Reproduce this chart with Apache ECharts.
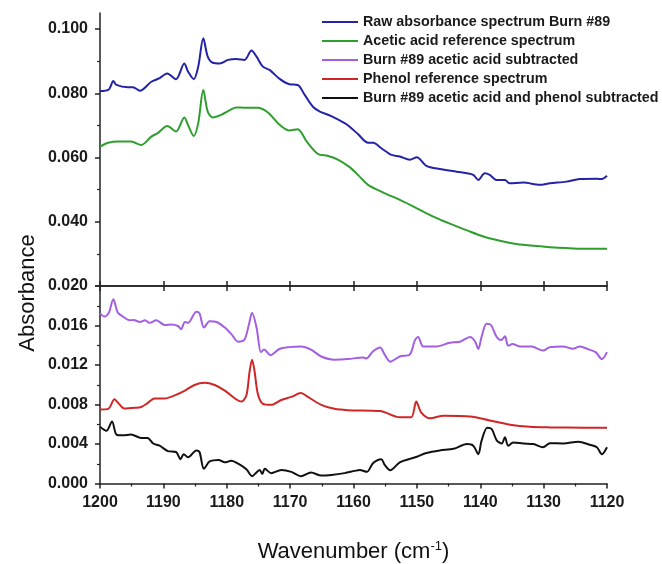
<!DOCTYPE html>
<html>
<head>
<meta charset="utf-8">
<script src="https://cdn.jsdelivr.net/npm/echarts@6/dist/echarts.min.js"></script>
<style>
    html, body { margin: 0; padding: 0; background: #fff; }
    #chart { width: 662px; height: 564px; }
</style>
</head>
<body>
<div id="chart"></div>
<script>
// [wavenumber (cm-1), absorbance]
var rawSpectrum = [
    [1200,0.0807],[1198.6,0.0812],[1197.9,0.0838],[1197.4,0.0826],[1195.6,0.0819],[1194.8,0.0819],
    [1193.7,0.0808],[1191.9,0.0836],[1190.6,0.0847],[1189.4,0.0862],[1188.0,0.0844],[1186.7,0.0893],
    [1186.1,0.0867],[1185.2,0.0844],[1184.5,0.0883],[1183.7,0.0971],[1183.0,0.0914],[1182.2,0.0895],
    [1181.1,0.0893],[1179.8,0.0904],[1178.5,0.0907],[1177.2,0.0904],[1176.1,0.0933],[1175.3,0.0914],
    [1174.3,0.0883],[1173.2,0.0872],[1171.6,0.0844],[1170.1,0.0828],[1168.8,0.0826],[1167.7,0.0795],
    [1166.4,0.0758],[1165.3,0.0743],[1163.5,0.0729],[1161.4,0.0707],[1160.6,0.0696],[1159.3,0.0673],
    [1157.7,0.0646],[1156.9,0.0646],[1155.6,0.0629],[1154.0,0.0608],[1152.7,0.0603],[1151.1,0.0593],
    [1150.0,0.0601],[1148.5,0.0574],[1146.4,0.0564],[1143.7,0.0556],[1142.1,0.0551],[1141.1,0.0546],
    [1140.3,0.0530],[1139.3,0.0551],[1138.5,0.0546],[1137.4,0.0530],[1136.1,0.0530],[1135.4,0.0520],
    [1133.2,0.0522],[1130.6,0.0515],[1129.0,0.0520],[1126.4,0.0525],[1124.3,0.0533],[1121.6,0.0534],
    [1120.8,0.0533],[1120.0,0.0543]
];
var aceticRef = [
    [1200,0.0634],[1198.7,0.0646],[1197.1,0.0650],[1195.1,0.0650],[1193.5,0.0639],[1191.9,0.0665],
    [1190.9,0.0676],[1189.4,0.0698],[1188.0,0.0681],[1186.7,0.0725],[1186.1,0.0701],[1185.2,0.0667],
    [1184.5,0.0707],[1183.7,0.0810],[1183.0,0.0743],[1182.2,0.0725],[1180.9,0.0733],[1179.3,0.0750],
    [1178.5,0.0756],[1177.2,0.0755],[1175.1,0.0755],[1173.5,0.0740],[1171.6,0.0701],[1170.1,0.0684],
    [1168.8,0.0688],[1167.4,0.0650],[1165.6,0.0611],[1164.0,0.0605],[1162.4,0.0593],[1160.6,0.0570],
    [1159.3,0.0546],[1157.7,0.0515],[1155.3,0.0491],[1152.7,0.0468],[1150.0,0.0442],[1147.4,0.0416],
    [1144.8,0.0394],[1142.1,0.0373],[1139.5,0.0354],[1136.9,0.0341],[1134.3,0.0331],[1131.6,0.0325],
    [1129.0,0.0321],[1126.4,0.0318],[1123.7,0.0316],[1120,0.0316]
];
var aceticSubtracted = [
    [1200,0.01723],[1199.3,0.01691],[1198.6,0.01730],[1197.9,0.01866],[1197.2,0.01732],[1196.4,0.01691],
    [1195.3,0.01653],[1194.7,0.01656],[1193.7,0.01636],[1192.9,0.01653],[1192.2,0.01627],[1191.1,0.01653],
    [1189.8,0.01605],[1188.7,0.01611],[1187.7,0.01595],[1187.2,0.01563],[1186.6,0.01636],[1186.1,0.01627],
    [1184.8,0.01739],[1184.3,0.01723],[1183.6,0.01579],[1182.7,0.01643],[1181.6,0.01636],[1180.3,0.01579],
    [1179.3,0.01515],[1178.2,0.01436],[1177.2,0.01458],[1176.5,0.01611],[1176.0,0.01729],[1175.3,0.01579],
    [1174.6,0.01330],[1174.1,0.01356],[1173.1,0.01299],[1171.7,0.01362],[1170.1,0.01381],[1168.3,0.01388],
    [1166.7,0.01356],[1165.1,0.01286],[1163.0,0.01254],[1160.9,0.01260],[1158.5,0.01276],[1158.0,0.01266],
    [1156.9,0.01340],[1155.8,0.01378],[1155.1,0.01308],[1154.2,0.01234],[1152.7,0.01286],[1151.1,0.01308],
    [1150.3,0.01452],[1149.8,0.01483],[1149.0,0.01388],[1146.9,0.01388],[1144.8,0.01426],[1143.2,0.01436],
    [1141.6,0.01483],[1140.8,0.01436],[1140.3,0.01362],[1139.8,0.01483],[1139.0,0.01617],[1138.3,0.01605],
    [1137.4,0.01483],[1136.7,0.01452],[1136.1,0.01490],[1135.6,0.01395],[1134.9,0.01413],[1133.8,0.01388],
    [1131.9,0.01388],[1130.1,0.01346],[1129.0,0.01381],[1126.9,0.01388],[1125.4,0.01365],[1124.3,0.01388],
    [1122.8,0.01356],[1121.8,0.01330],[1120.8,0.01260],[1120.0,0.01330]
];
var phenolRef = [
    [1200,0.00750],[1198.7,0.00756],[1197.7,0.00852],[1197.1,0.00814],[1196.1,0.00759],[1194.5,0.00766],
    [1193.5,0.00775],[1192.5,0.00814],[1191.4,0.00861],[1189.8,0.00861],[1188.2,0.00893],[1186.6,0.00941],
    [1185.1,0.00998],[1183.5,0.01021],[1181.9,0.00998],[1180.3,0.00941],[1178.7,0.00861],[1177.7,0.00830],
    [1176.9,0.00893],[1176.4,0.01132],[1176.0,0.01254],[1175.6,0.01132],[1175.1,0.00909],[1174.3,0.00807],
    [1173.0,0.00797],[1171.4,0.00845],[1169.8,0.00877],[1168.3,0.00916],[1167.2,0.00877],[1165.1,0.00797],
    [1163.0,0.00756],[1160.9,0.00743],[1155.8,0.00734],[1152.7,0.00670],[1150.9,0.00670],[1150.1,0.00830],
    [1149.3,0.00718],[1147.9,0.00660],[1145.8,0.00686],[1141.6,0.00679],[1138.5,0.00638],[1135.3,0.00596],
    [1132.2,0.00574],[1129.0,0.00568],[1123.7,0.00565],[1120,0.00565]
];
var bothSubtracted = [
    [1200,0.00574],[1199.0,0.00533],[1198.1,0.00629],[1197.4,0.00495],[1196.4,0.00488],[1195.1,0.00495],
    [1193.5,0.00462],[1192.5,0.00462],[1191.6,0.00405],[1190.6,0.00383],[1189.3,0.00328],[1188.0,0.00319],
    [1187.3,0.00246],[1186.8,0.00297],[1186.1,0.00265],[1184.8,0.00335],[1184.3,0.00319],[1183.6,0.00150],
    [1182.7,0.00223],[1181.3,0.00239],[1180.3,0.00214],[1179.3,0.00230],[1178.2,0.00201],[1176.9,0.00144],
    [1176.0,0.00074],[1175.3,0.00112],[1174.8,0.00137],[1174.4,0.00096],[1174.0,0.00150],[1173.0,0.00105],
    [1171.4,0.00137],[1169.8,0.00118],[1168.3,0.00074],[1166.7,0.00112],[1165.1,0.00080],[1163.5,0.00086],
    [1161.4,0.00105],[1159.8,0.00128],[1159.0,0.00137],[1157.9,0.00118],[1156.9,0.00207],[1155.6,0.00246],
    [1155.1,0.00191],[1154.2,0.00134],[1152.7,0.00214],[1151.1,0.00249],[1150.0,0.00271],[1148.5,0.00309],
    [1146.4,0.00335],[1144.2,0.00351],[1142.1,0.00399],[1141.1,0.00383],[1140.3,0.00297],[1139.8,0.00431],
    [1138.9,0.00565],[1138.2,0.00552],[1137.4,0.00437],[1136.6,0.00405],[1136.1,0.00469],[1135.6,0.00383],
    [1134.8,0.00415],[1133.2,0.00405],[1131.6,0.00399],[1130.1,0.00367],[1129.0,0.00408],[1126.9,0.00405],
    [1124.5,0.00424],[1122.7,0.00392],[1121.6,0.00367],[1120.8,0.00297],[1120.0,0.00367]
];

var seriesNames = [
    'Raw absorbance spectrum Burn #89',
    'Acetic acid reference spectrum',
    'Burn #89 acetic acid subtracted',
    'Phenol reference spectrum',
    'Burn #89 acetic acid and phenol subtracted'
];
var topMajorTicks = [0.02, 0.04, 0.06, 0.08, 0.10];
var topMinorTicks = [0.03, 0.05, 0.07, 0.09];

var chart = echarts.init(document.getElementById('chart'));

var font = '"Liberation Sans", Arial, sans-serif';
var axisColor = '#222';

function line(name, data, color, xi, yi) {
    return {
        name: name,
        type: 'line',
        xAxisIndex: xi,
        yAxisIndex: yi,
        data: data,
        symbol: 'none',
        smooth: 0.3,
        lineStyle: { color: color, width: 2 },
        itemStyle: { color: color }
    };
}

var boldLabel = { fontFamily: font, fontWeight: 'bold', fontSize: 16, color: '#1a1a1a' };

var option = {
    animation: false,
    backgroundColor: '#fff',
    grid: [
        { left: 100, top: 13, width: 507, height: 273 },
        { left: 100, top: 286, width: 507, height: 209 }
    ],
    legend: {
        orient: 'vertical',
        left: 322,
        top: 15,
        padding: 0,
        icon: 'rect',
        itemWidth: 36,
        itemHeight: 2,
        itemGap: 5,
        textStyle: { fontFamily: font, fontWeight: 'bold', fontSize: 14.3, color: '#1a1a1a' },
        data: seriesNames
    },
    xAxis: [
        {
            gridIndex: 0, type: 'value', min: 1120, max: 1200, interval: 10, inverse: true,
            position: 'bottom',
            axisLine: { lineStyle: { color: axisColor, width: 1.5 } },
            axisTick: { inside: true, length: 5, lineStyle: { color: axisColor, width: 1.5 } },
            axisLabel: { show: false },
            splitLine: { show: false }
        },
        {
            gridIndex: 1, type: 'value', min: 1120, max: 1200, interval: 10, inverse: true,
            position: 'bottom',
            axisLine: { lineStyle: { color: axisColor, width: 1.5 } },
            axisTick: { length: 5, lineStyle: { color: axisColor, width: 1.5 } },
            minorTick: { show: true, splitNumber: 2, length: 3, lineStyle: { color: axisColor, width: 1.2 } },
            axisLabel: Object.assign({
                margin: 11,
                formatter: function (v) { return String(v); }
            }, boldLabel),
            splitLine: { show: false },
            name: '{a|Wavenumber (cm}{b|-1}{a|)}',
            nameLocation: 'middle',
            nameGap: 56,
            nameTextStyle: {
                rich: {
                    a: { fontFamily: font, fontSize: 22, color: '#111' },
                    b: { fontFamily: font, fontSize: 13, color: '#111', padding: [0, 0, 12, 0] }
                }
            }
        },
        {
            gridIndex: 1, type: 'value', min: 1120, max: 1200, interval: 10, inverse: true,
            position: 'top',
            axisLine: { lineStyle: { color: axisColor, width: 1.5 } },
            axisTick: { inside: true, length: 5, lineStyle: { color: axisColor, width: 1.5 } },
            axisLabel: { show: false },
            splitLine: { show: false }
        }
    ],
    yAxis: [
        {
            gridIndex: 0, type: 'value', min: 0.02, max: 0.105, position: 'left',
            axisLine: { show: true, lineStyle: { color: axisColor, width: 1.5 } },
            axisTick: { show: true, length: 5, customValues: topMajorTicks, lineStyle: { color: axisColor, width: 1.5 } },
            axisLabel: Object.assign({
                margin: 12,
                customValues: topMajorTicks,
                formatter: function (v) { return v.toFixed(3); }
            }, boldLabel),
            splitLine: { show: false }
        },
        {
            gridIndex: 0, type: 'value', min: 0.02, max: 0.105, position: 'left',
            axisLine: { show: false },
            axisTick: { show: true, length: 3, customValues: topMinorTicks, lineStyle: { color: axisColor, width: 1.2 } },
            axisLabel: { show: false },
            splitLine: { show: false }
        },
        {
            gridIndex: 1, type: 'value', min: 0, max: 0.02, interval: 0.004, position: 'left',
            axisLine: { show: true, lineStyle: { color: axisColor, width: 1.5 } },
            axisTick: { show: true, length: 5, lineStyle: { color: axisColor, width: 1.5 } },
            minorTick: { show: true, splitNumber: 2, length: 3, lineStyle: { color: axisColor, width: 1.2 } },
            axisLabel: Object.assign({
                margin: 12,
                showMaxLabel: false,
                formatter: function (v) { return v.toFixed(3); }
            }, boldLabel),
            splitLine: { show: false }
        }
    ],
    graphic: [
        {
            type: 'text',
            x: 28,
            y: 293,
            rotation: Math.PI / 2,
            style: {
                text: 'Absorbance',
                font: '22px "Liberation Sans", Arial, sans-serif',
                fill: '#111',
                align: 'center',
                verticalAlign: 'middle'
            }
        }
    ],
    series: [
        line(seriesNames[0], rawSpectrum, '#2323a8', 0, 0),
        line(seriesNames[1], aceticRef, '#2f9e2f', 0, 0),
        line(seriesNames[2], aceticSubtracted, '#a35ee3', 1, 2),
        line(seriesNames[3], phenolRef, '#cf2626', 1, 2),
        line(seriesNames[4], bothSubtracted, '#111111', 1, 2)
    ]
};

chart.setOption(option);
</script>
</body>
</html>
